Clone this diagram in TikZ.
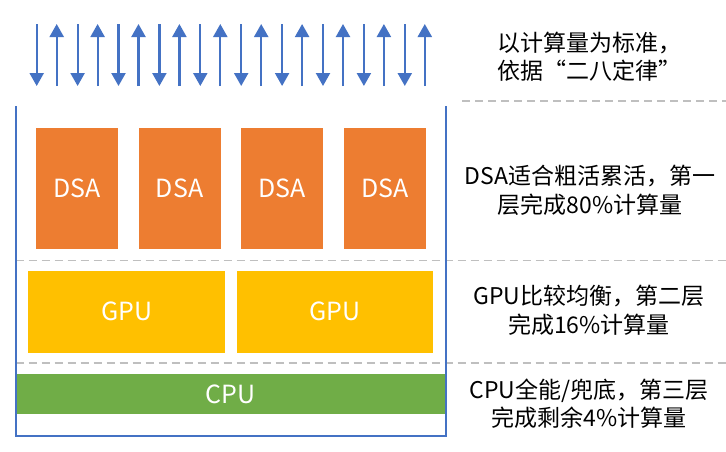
\documentclass[tikz,border=0pt]{standalone}
\usepackage{fontspec}
\setmainfont{Noto Sans CJK SC}
\usetikzlibrary{arrows.meta}
\definecolor{dsaorange}{HTML}{ED7D31}
\definecolor{gpuyellow}{HTML}{FFC000}
\definecolor{cpugreen}{HTML}{70AD47}
\definecolor{linkblue}{HTML}{4472C4}
\definecolor{sepgray}{HTML}{BFBFBF}
\begin{document}
\begin{tikzpicture}[x=1pt,y=-1pt,
  flow/.style={draw=linkblue,line width=2.2pt,-{Triangle[width=14pt,length=13pt]}},
  frame/.style={draw=linkblue,line width=2pt},
  sepline/.style={draw=sepgray,line width=1.4pt,dash pattern=on 8pt off 5pt},
  unitbox/.style={inner sep=0pt,text=white,font=\fontsize{25}{28}\selectfont},
  dsabox/.style={unitbox,fill=dsaorange,minimum width=82pt,minimum height=121.5pt},
  gpubox/.style={unitbox,fill=gpuyellow,minimum width=196.5pt,minimum height=82pt},
  cpubox/.style={unitbox,fill=cpugreen,minimum width=429.7pt,minimum height=40pt},
  note/.style={align=center,inner sep=0pt,text=black,font=\fontsize{23}{28.5}\selectfont}]
\useasboundingbox (0,0) rectangle (726,451);
\fill[white] (0,0) rectangle (726,451);
% arrows
\foreach \i in {0,...,9}{
  \pgfmathsetmacro{\xd}{36.7+40.9*\i}
  \pgfmathsetmacro{\xu}{56.7+40.9*\i}
  \coordinate (dt\i) at (\xd,24);
  \coordinate (db\i) at (\xd,86);
  \coordinate (ut\i) at (\xu,24);
  \coordinate (ub\i) at (\xu,86);
  \draw[flow] (dt\i) -- (db\i);
  \draw[flow] (ub\i) -- (ut\i);
}
% separators
\coordinate (s1a) at (462,101);   \coordinate (s1b) at (726,101);
\coordinate (s2a) at (15.5,260.5); \coordinate (s2b) at (726,260.5);
\coordinate (s3a) at (15.5,363);   \coordinate (s3b) at (726,363);
\draw[sepline] (s1a) -- (s1b);
\draw[sepline] (s2a) -- (s2b);
\draw[sepline] (s3a) -- (s3b);
% units
\node[dsabox] (dsa1) at (77,188.3) {DSA};
\node[dsabox] (dsa2) at (179.6,188.3) {DSA};
\node[dsabox] (dsa3) at (282,188.3) {DSA};
\node[dsabox] (dsa4) at (384.7,188.3) {DSA};
\node[gpubox] (gpu1) at (126.7,311.7) {GPU};
\node[gpubox] (gpu2) at (335.2,311.7) {GPU};
\node[cpubox] (cpu) at (230.8,394) {CPU};
% frame
\coordinate (c1) at (15.5,106);
\coordinate (c2) at (15.5,435.5);
\coordinate (c3) at (445.7,435.5);
\coordinate (c4) at (445.7,106);
\draw[frame] (c1) -- (c2) -- (c3) -- (c4);
% notes
\node[note] (n1) at (589,56.5) {以计算量为标准，\\依据“二八定律”};
\node[note] (n2) at (590,190.5) {DSA适合粗活累活，第一\\层完成80\%计算量};
\node[note] (n3) at (589,310.5) {GPU比较均衡，第二层\\完成16\%计算量};
\node[note] (n4) at (589,403.5) {CPU全能/兜底，第三层\\完成剩余4\%计算量};
\end{tikzpicture}
\end{document}
